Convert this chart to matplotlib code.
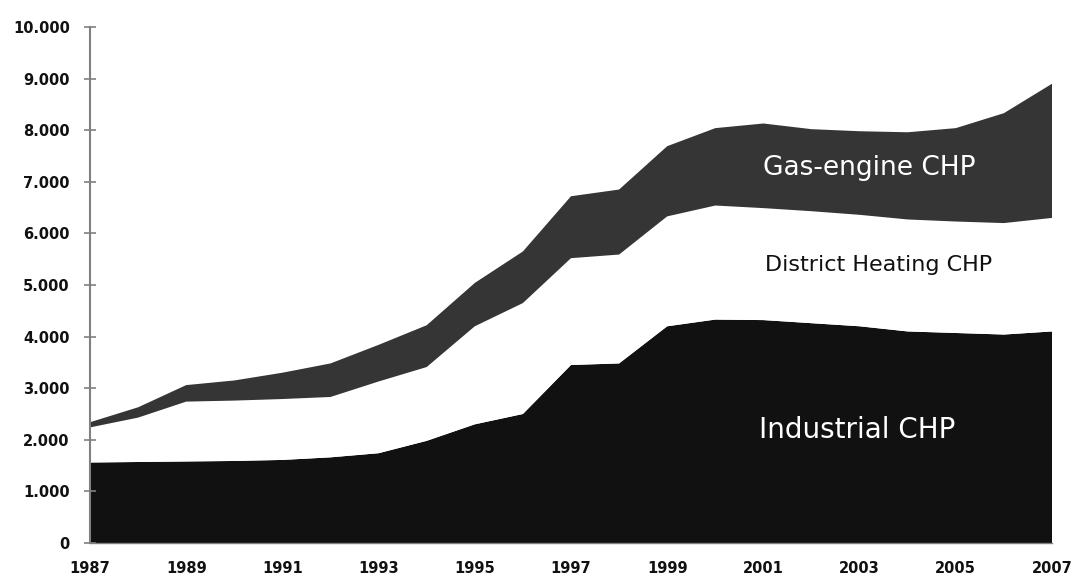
import matplotlib
matplotlib.use("Agg")
import matplotlib.pyplot as plt
from matplotlib.ticker import FuncFormatter

years = list(range(1987, 2008))
industrial = [1560, 1570, 1580, 1590, 1610, 1660, 1740, 1980, 2300, 2500, 3450,
              3480, 4200, 4330, 4320, 4260, 4200, 4100, 4070, 4040, 4100]
district = [680, 860, 1160, 1170, 1180, 1170, 1390, 1430, 1900, 2150, 2070,
            2110, 2130, 2210, 2170, 2170, 2160, 2170, 2160, 2160, 2200]
gas_engine = [100, 200, 320, 390, 510, 650, 710, 810, 840, 1000, 1200,
              1260, 1360, 1500, 1640, 1590, 1620, 1690, 1810, 2130, 2600]
series_labels = ["Industrial CHP", "District Heating CHP", "Gas-engine CHP"]
y_ticks = list(range(0, 10001, 1000))
x_ticks = list(range(1987, 2008, 2))

fig = plt.figure(figsize=(10.77, 5.76), dpi=100)
ax = fig.add_axes([90/1077, 33/576, (1052-90)/1077, (543-27)/576])

ax.stackplot(years, industrial, district, gas_engine,
             colors=["#111111", "#ffffff", "#353535"], linewidth=0)

ax.set_xlim(1987, 2007)
ax.set_ylim(0, 10000)
ax.set_yticks(y_ticks)
ax.set_xticks(x_ticks)
ax.yaxis.set_major_formatter(FuncFormatter(lambda v, p: f"{int(v):,}".replace(",", ".")))

for s in ["top", "right"]:
    ax.spines[s].set_visible(False)
ax.spines["left"].set_color("#808080")
ax.spines["left"].set_linewidth(1.5)
ax.spines["bottom"].set_color("#808080")
ax.spines["bottom"].set_linewidth(1.0)

ax.tick_params(axis="y", direction="inout", length=9, width=1.2, color="#808080",
               labelsize=10.5, pad=10)
ax.tick_params(axis="x", length=0, labelsize=10.5, pad=13)
for lab in ax.get_xticklabels() + ax.get_yticklabels():
    lab.set_fontweight("bold")
    lab.set_color("#111111")

# series labels placed inside the areas
ax.text(2003.2, 7270, series_labels[2], color="white", fontsize=19,
        ha="center", va="center", family="DejaVu Sans")
ax.text(2003.4, 5390, series_labels[1], color="#111111", fontsize=16,
        ha="center", va="center", family="DejaVu Sans")
ax.text(2002.95, 2190, series_labels[0], color="white", fontsize=20,
        ha="center", va="center", family="DejaVu Sans")

fig.savefig("out.png", dpi=100)
